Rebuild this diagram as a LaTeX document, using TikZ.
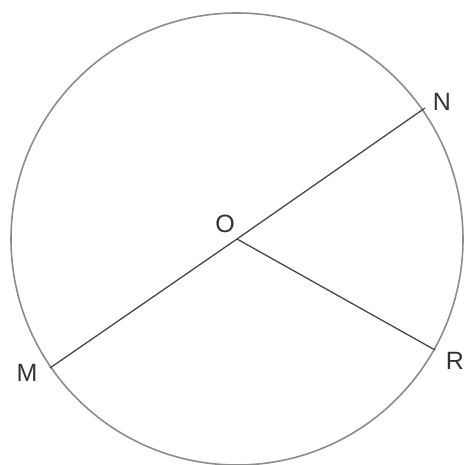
\documentclass[tikz,border=0pt]{standalone}
\usepackage{fontspec}
\setmainfont{Liberation Sans}
\begin{document}
\begin{tikzpicture}[x=1pt,y=-1pt,
  rim/.style={draw=black!45,line width=1.6pt},
  seg/.style={draw=black!72,line width=1.3pt},
  lbl/.style={font=\fontsize{25}{25}\selectfont,text=black!80,inner sep=0pt}]
\useasboundingbox (0,0) rectangle (467,465);
\coordinate (O) at (237,239);
\draw[rim] (O) circle (226);
\coordinate (N) at (425,108);
\coordinate (M) at (50,368);
\coordinate (R) at (435,350);
\draw[seg] (M) -- (O) -- (N);
\draw[seg] (O) -- (R);
\node[lbl] (lO) at (225,224) {O};
\node[lbl] (lN) at (442,102) {N};
\node[lbl] (lM) at (27,373) {M};
\node[lbl] (lR) at (455,361) {R};
\end{tikzpicture}
\end{document}
